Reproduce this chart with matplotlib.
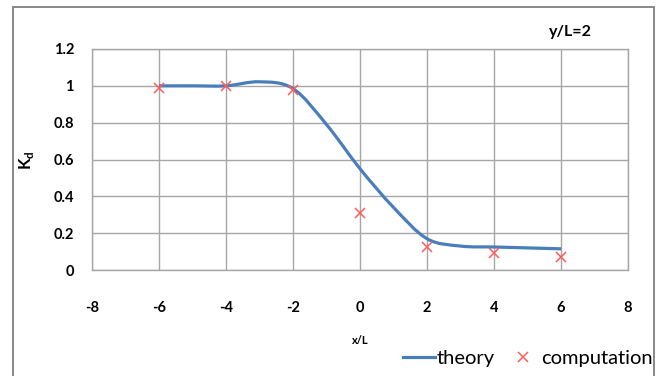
import matplotlib
matplotlib.use('Agg')
import matplotlib.pyplot as plt
from matplotlib.path import Path
from matplotlib.patches import PathPatch, Rectangle
from matplotlib.lines import Line2D
import numpy as np

# theory curve
theory_x = [-6, -5, -4, -3, -2, -1, 0, 1, 2, 3, 4, 5, 6]
theory_y = [1.0, 1.0, 1.0, 1.022, 0.985, 0.79, 0.55, 0.34, 0.17, 0.13, 0.125, 0.12, 0.115]

# computation points
comp_x = [-6, -4, -2, 0, 2, 4, 6]
comp_y = [0.99, 1.0, 0.98, 0.31, 0.125, 0.092, 0.07]

x_ticks = [-8, -6, -4, -2, 0, 2, 4, 6, 8]
y_ticks = [0, 0.2, 0.4, 0.6, 0.8, 1.0, 1.2]
y_tick_labels = ['0', '0.2', '0.4', '0.6', '0.8', '1', '1.2']

plt.rcParams['font.family'] = ['Lato', 'DejaVu Sans']
plt.rcParams['axes.unicode_minus'] = False

BLUE = '#4A7EBB'
RED = '#FF5B5B'
GRID = '#A6A6A6'


def smooth_path(xs, ys):
    # Excel-style smoothed line: cubic Bezier segments (Catmull-Rom control points)
    pts = np.column_stack([xs, ys])
    verts = [pts[0]]
    codes = [Path.MOVETO]
    n = len(pts)
    for i in range(n - 1):
        p0 = pts[max(i - 1, 0)]
        p1 = pts[i]
        p2 = pts[i + 1]
        p3 = pts[min(i + 2, n - 1)]
        verts += [p1 + (p2 - p0) / 6, p2 - (p3 - p1) / 6, p2]
        codes += [Path.CURVE4] * 3
    return Path(verts, codes)


fig = plt.figure(figsize=(6.64, 3.76), dpi=100)
ax = fig.add_axes([92 / 664, 106 / 376, 536 / 664, 221 / 376])

ax.add_patch(PathPatch(smooth_path(theory_x, theory_y), facecolor='none',
                       edgecolor=BLUE, lw=2.3, capstyle='butt', zorder=3))
ax.plot(comp_x, comp_y, linestyle='none', marker='x', color=RED, ms=7, mew=1.1, zorder=4)

ax.set_xlim(-8, 8)
ax.set_ylim(0, 1.2)
ax.set_xticks(x_ticks)
ax.set_yticks(y_ticks)
ax.set_yticklabels(y_tick_labels)
ax.grid(True, color=GRID, lw=1.0)
ax.set_axisbelow(True)
for s in ax.spines.values():
    s.set_color(GRID)
    s.set_linewidth(1.0)
ax.tick_params(length=0, labelsize=10.5)
ax.tick_params(axis='x', pad=22)
ax.tick_params(axis='y', pad=13)
for lab in ax.get_xticklabels() + ax.get_yticklabels():
    lab.set_fontweight('bold')

fig.text(360 / 664, 1 - 341 / 376, 'x/L', ha='center', va='center', fontsize=8, fontweight='bold')
fig.text(27 / 664, 1 - 160 / 376, r'K$_\mathregular{d}$', ha='center', va='center',
         rotation=90, fontsize=12, fontweight='bold')
fig.text(570 / 664, 1 - 32 / 376, 'y/L=2', ha='center', va='center', fontsize=11.5, fontweight='bold')

# outer chart frame (bottom edge is cut off in the original)
fig.add_artist(Rectangle((13 / 664, -0.1), 641 / 664, 1.1 - 7 / 376, transform=fig.transFigure,
                         facecolor='none', edgecolor='#7F7F7F', lw=1.3))

handles = [Line2D([], [], color=BLUE, lw=2.3),
           Line2D([], [], linestyle='none', marker='x', color=RED, ms=7, mew=1.1)]
fig.legend(handles, ['theory', 'computation'], loc='center right',
           bbox_to_anchor=(653 / 664, 1 - 358 / 376), ncol=2, frameon=False,
           fontsize=14.5, handlelength=1.6, handletextpad=0.1, columnspacing=0.6,
           borderpad=0, borderaxespad=0)

fig.savefig('out.png', dpi=100)
